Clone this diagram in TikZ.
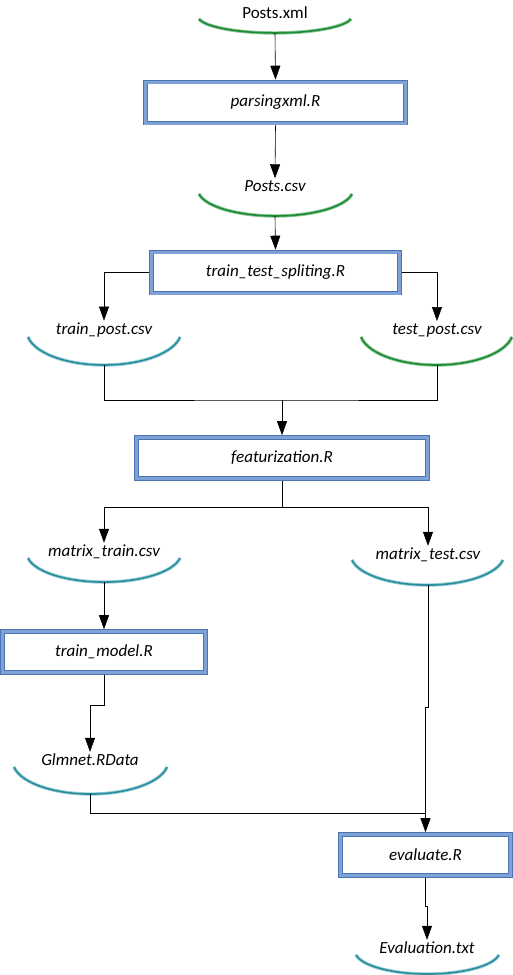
\documentclass[tikz,border=0pt]{standalone}
\usepackage{fontspec}
\setmainfont{Carlito}
\usepackage{tikz}
\usetikzlibrary{arrows.meta, calc}
\definecolor{boxedge}{HTML}{4A74B4}
\definecolor{boxfill}{HTML}{7FA2D6}
\definecolor{arcgreen}{HTML}{1E8A34}
\definecolor{arcgreenlt}{HTML}{8CC79A}
\definecolor{arcteal}{HTML}{2A8C9C}
\definecolor{arcteallt}{HTML}{9ACFD8}
\tikzstyle{script}=[draw=boxedge, double=boxfill, double distance=3pt, line width=0.8pt, fill=white, minimum height=41pt, outer sep=2.3pt, font=\fontsize{17}{20}\selectfont\itshape]
\tikzstyle{datafile}=[inner sep=2pt, font=\fontsize{17}{20}\selectfont\itshape]
\tikzstyle{greenarc}=[draw=arcgreenlt, double=arcgreen, double distance=1.6pt, line width=0.9pt]
\tikzstyle{tealarc}=[draw=arcteallt, double=arcteal, double distance=1.6pt, line width=0.9pt]
\tikzstyle{conn}=[line width=0.6pt]
\tikzset{>={Triangle[length=14pt,width=10pt]}}

\begin{document}
\begin{tikzpicture}[x=1pt, y=-1pt]
\useasboundingbox (0,0) rectangle (513,975);
% the scripts
\node[script, minimum width=260pt] (parsexml) at (275.5,102.5) {parsingxml.R};
\node[script, minimum width=248pt] (ttsplit) at (275.5,272.5) {train\_test\_spliting.R};
\node[script, minimum width=291pt] (featur) at (282,458) {featurization.R};
\node[script, minimum width=203pt] (trainmod) at (104,652) {train\_model.R};
\node[script, minimum width=170pt] (evalr) at (425.5,855) {evaluate.R};
% the data files
\node[datafile, font=\fontsize{17}{20}\selectfont] (postsxml) at (275,13) {Posts.xml};
\node[datafile] (postscsv) at (275,186) {Posts.csv};
\node[datafile] (trainpost) at (104,330) {train\_post.csv};
\node[datafile] (testpost) at (437,330) {test\_post.csv};
\node[datafile] (mtrain) at (104,552) {matrix\_train.csv};
\node[datafile] (mtest) at (428,555) {matrix\_test.csv};
\node[datafile] (glmnet) at (90,760) {Glmnet.RData};
\node[datafile] (evaltxt) at (427,948) {Evaluation.txt};
% the arcs under the files
\draw[greenarc] (199,19) arc[start angle=170, end angle=10, x radius=77.2, y radius=16.9];
\draw[greenarc] (199,194) arc[start angle=170, end angle=10, x radius=77.7, y radius=26.6];
\draw[tealarc] (28,337) arc[start angle=170, end angle=10, x radius=77.2, y radius=33.9];
\draw[greenarc] (361,337) arc[start angle=170, end angle=10, x radius=76.6, y radius=33.9];
\draw[tealarc] (28,558) arc[start angle=170, end angle=10, x radius=77.2, y radius=29.1];
\draw[tealarc] (352,560) arc[start angle=170, end angle=10, x radius=76.6, y radius=30.3];
\draw[tealarc] (14,767) arc[start angle=170, end angle=10, x radius=77.7, y radius=32.7];
\draw[tealarc] (356,955) arc[start angle=170, end angle=10, x radius=72.6, y radius=23.0];
\coordinate (postsxml-b) at (275,33);
\coordinate (postscsv-b) at (275,216);
\coordinate (trainpost-b) at (104,365);
\coordinate (testpost-b) at (437,365);
\coordinate (mtrain-b) at (104,582);
\coordinate (mtest-b) at (428,585);
\coordinate (glmnet-b) at (90,794);
% the bends
\coordinate (merge) at (282,400);
\coordinate (split) at (282,507);
\coordinate (tm-bend) at (104,705);
\coordinate (mt-bend) at (425.5,707);
\coordinate (ev-join) at (425.5,813);
\coordinate (ev-bend) at (427,906);
% the connectors
\draw[conn, ->] (postsxml-b) -- (parsexml.north);
\draw[conn, ->] (parsexml.south) -- (postscsv.north);
\draw[conn, ->] (postscsv-b) -- (ttsplit.north);
\draw[conn, ->] (ttsplit.west) -| (trainpost.north);
\draw[conn, ->] (ttsplit.east) -| (testpost.north);
\draw[conn] (trainpost-b) |- (merge) -| (testpost-b);
\draw[conn, ->] (merge) -- (featur.north);
\draw[conn] (featur.south) -- (split);
\draw[conn, ->] (split) -| (mtrain.north);
\draw[conn, ->] (split) -| (mtest.north);
\draw[conn, ->] (mtrain-b) -- (trainmod.north);
\draw[conn, ->] (trainmod.south) -- (tm-bend) -| (glmnet.north);
\draw[conn, ->] (mtest-b) |- (mt-bend) -- (evalr.north);
\draw[conn] (glmnet-b) |- (ev-join);
\draw[conn, ->] (evalr.south) |- (ev-bend) -- (evaltxt.north);
\end{tikzpicture}
\end{document}
